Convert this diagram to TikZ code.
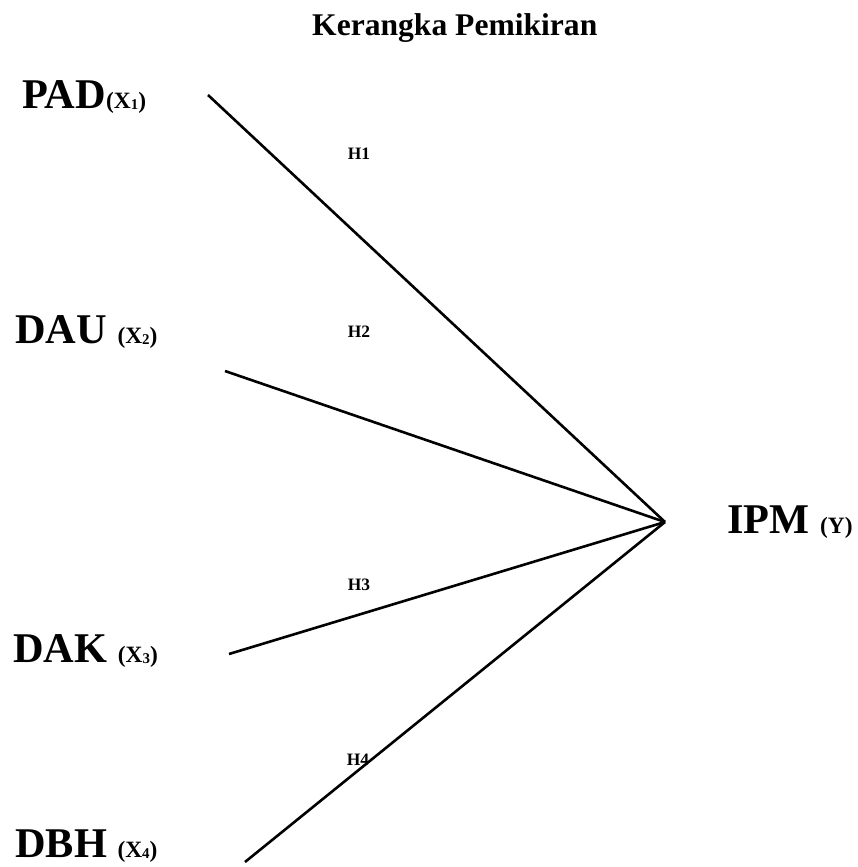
\documentclass[tikz,border=0pt]{standalone}
\usepackage{fontspec}
\setmainfont{Liberation Serif}
\usepackage{tikz}

\newcommand{\sml}[1]{{\fontsize{23.5}{23.5}\selectfont #1}}
\newcommand{\subn}[1]{\raisebox{-1bp}{\fontsize{15}{15}\selectfont #1}}

\begin{document}
\begin{tikzpicture}[x=1bp,y=-1bp,
  var/.style={anchor=base west,inner sep=0pt,font=\fontsize{42.5}{42.5}\selectfont\bfseries},
  hyp/.style={anchor=base,inner sep=0pt,font=\fontsize{17.5}{17.5}\selectfont\bfseries},
  link/.style={line width=2.6bp}]
 \useasboundingbox (0,0) rectangle (858,867);
 \node[anchor=base west,inner sep=0pt,font=\fontsize{31.7}{31.7}\selectfont\bfseries] (title) at (312,35) {Kerangka Pemikiran};
 \node[var] (pad) at (22,108) {PAD\sml{(X\subn{1})}};
 \node[var] (dau) at (15,343) {DAU \sml{(X\subn{2})}};
 \node[var] (dak) at (13,662) {DAK \sml{(X\subn{3})}};
 \node[var] (dbh) at (15,857) {DBH \sml{(X\subn{4})}};
 \node[var] (ipm) at (727,533) {IPM \sml{(Y)}};
 \coordinate (hub) at (665,522);
 \coordinate (padend) at (208,95);
 \coordinate (dauend) at (225,371);
 \coordinate (dakend) at (229,654);
 \coordinate (dbhend) at (245,862);
 \draw[link] (padend) -- (hub);
 \draw[link] (dauend) -- (hub);
 \draw[link] (dakend) -- (hub);
 \draw[link] (dbhend) -- (hub);
 \node[hyp] (h1) at (359,159) {H1};
 \node[hyp] (h2) at (359,337) {H2};
 \node[hyp] (h3) at (359,590) {H3};
 \node[hyp] (h4) at (358,765) {H4};
\end{tikzpicture}
\end{document}
